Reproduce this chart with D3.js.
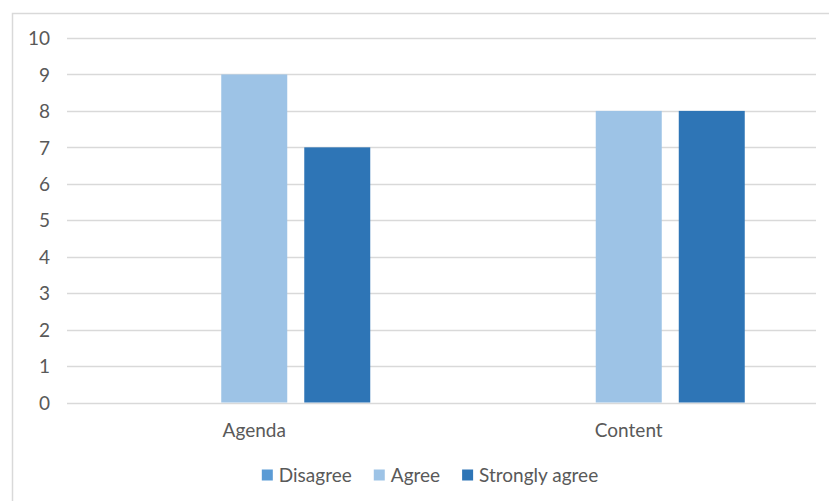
<!DOCTYPE html>
<html>
<head>
<meta charset="utf-8">
<script src="https://cdn.jsdelivr.net/npm/d3@7"></script>
<style>
  html, body { margin: 0; padding: 0; background: #fff; }
  svg { display: block; }
  text { font-family: Lato, "Open Sans", sans-serif; fill: #595959; }
</style>
</head>
<body>
<svg id="chart" width="829" height="501"></svg>
<script>
// Survey responses per topic
const categories = ["Agenda", "Content"];
const seriesNames = ["Disagree", "Agree", "Strongly agree"];
const disagree = [0, 0];
const agree = [9, 8];
const stronglyAgree = [7, 8];
const yTicks = [0, 1, 2, 3, 4, 5, 6, 7, 8, 9, 10];
const colors = ["#5B9BD5", "#9DC3E6", "#2E75B6"];

const seriesValues = [disagree, agree, stronglyAgree];
const rows = categories.map((c, i) => ({
  category: c,
  values: seriesNames.map((s, j) => ({ series: s, value: seriesValues[j][i] }))
}));

const svg = d3.select("#chart");
const W = 829, H = 501;
const fontSize = "19px";

// chart frame (its right edge runs past the visible area)
const frameLeft = 12, frameRight = 848;
svg.append("path")
  .attr("d", `M${frameLeft + 0.5},${H} V13.5 H${W}`)
  .attr("fill", "none")
  .attr("stroke", "#d9d9d9")
  .attr("stroke-width", 1.5);

const plot = { left: 67, right: 816, top: 38, bottom: 402.5 };

const x0 = d3.scaleBand()
  .domain(categories)
  .range([plot.left, plot.right])
  .paddingInner(0)
  .paddingOuter(0);

// inner band: three bars with narrow gaps, wide gap between groups
const groupW = 232;
const x1 = d3.scaleBand()
  .domain(seriesNames)
  .range([0, groupW])
  .paddingInner(0.205)
  .paddingOuter(0);

const y = d3.scaleLinear().domain([0, 10]).range([plot.bottom, plot.top]);

// gridlines
svg.append("g")
  .selectAll("line")
  .data(yTicks)
  .join("line")
  .attr("x1", plot.left)
  .attr("x2", plot.right)
  .attr("y1", d => Math.round(y(d)) + 0.5)
  .attr("y2", d => Math.round(y(d)) + 0.5)
  .attr("stroke", "#d9d9d9")
  .attr("stroke-width", d => d === 0 ? 1.6 : 1.3);

// y axis labels
const yAxis = d3.axisLeft(y).tickValues(yTicks).tickSize(0).tickPadding(0);
const yg = svg.append("g")
  .attr("transform", `translate(${plot.left - 17},0)`)
  .call(yAxis);
yg.select(".domain").remove();
yg.selectAll("text")
  .style("font-size", fontSize)
  .style("font-family", "Lato, 'Open Sans', sans-serif")
  .attr("fill", "#595959")
  .attr("dy", "0.35em");

// bars
const groups = svg.append("g")
  .selectAll("g")
  .data(rows)
  .join("g")
  .attr("transform", d => `translate(${x0(d.category) + (x0.bandwidth() - groupW) / 2},0)`);

groups.selectAll("rect")
  .data(d => d.values)
  .join("rect")
  .attr("x", d => x1(d.series))
  .attr("width", x1.bandwidth())
  .attr("y", d => y(d.value))
  .attr("height", d => y(0) - y(d.value))
  .attr("fill", (d, i) => colors[i]);

// category labels
const xAxis = d3.axisBottom(x0).tickSize(0).tickPadding(0);
const xg = svg.append("g")
  .attr("transform", `translate(0,${plot.bottom + 28})`)
  .call(xAxis);
xg.select(".domain").remove();
xg.selectAll("text")
  .style("font-size", fontSize)
  .style("font-family", "Lato, 'Open Sans', sans-serif")
  .attr("fill", "#595959")
  .attr("dy", "0.35em");

// legend, centred in the chart frame
const legendY = 475;
const legend = svg.append("g");
const items = legend.selectAll("g")
  .data(seriesNames)
  .join("g");
items.append("rect")
  .attr("width", 11)
  .attr("height", 11)
  .attr("y", legendY - 5.5)
  .attr("fill", (d, i) => colors[i]);
items.append("text")
  .attr("x", 17)
  .attr("y", legendY)
  .attr("dy", "0.35em")
  .style("font-size", fontSize)
  .text(d => d);

let offsets = [], xPos = 0;
items.each(function (d, i) {
  const w = 17 + this.querySelector("text").getComputedTextLength();
  offsets.push(xPos);
  xPos += w + 22;
});
const totalW = xPos - 22;
const startX = (frameLeft + frameRight) / 2 - totalW / 2;
items.attr("transform", (d, i) => `translate(${startX + offsets[i]},0)`);
</script>
</body>
</html>
